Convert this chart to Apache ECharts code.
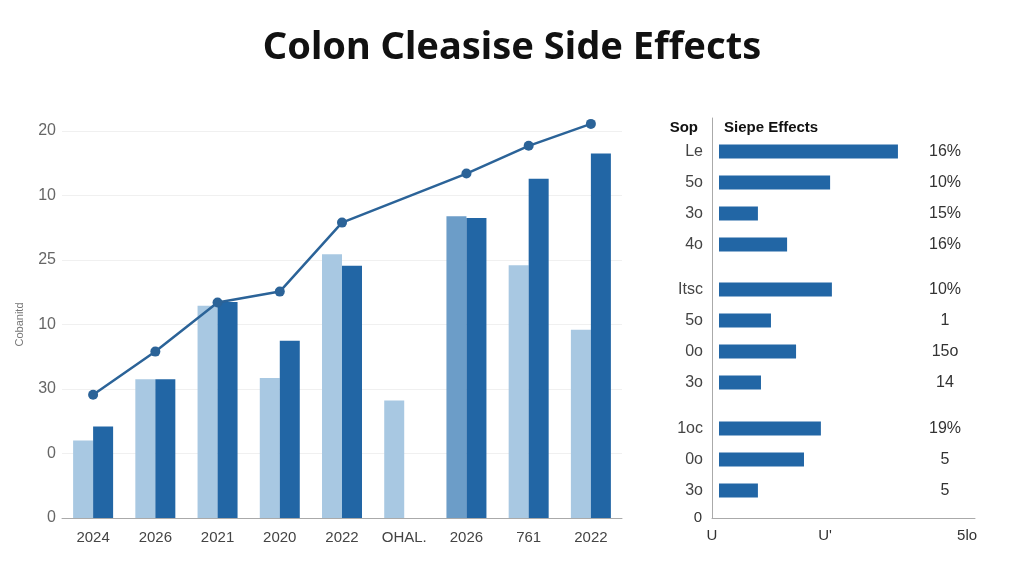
<!DOCTYPE html>
<html>
<head>
<meta charset="utf-8">
<script src="https://cdn.jsdelivr.net/npm/echarts@6/dist/echarts.min.js"></script>
<style>html,body{margin:0;padding:0;background:#fff}#c{width:1024px;height:585px}</style>
</head>
<body>
<div id="c"></div>
<script>
// ---- Left chart data ----
const categories = ['2024','2026','2021','2020','2022','OHAL.','2026','761','2022'];
const lightValues = [1.2, 2.15, 3.29, 2.17, 4.09, 1.82, 4.68, 3.92, 2.92];
const darkValues  = [1.42, 2.15, 3.35, 2.75, 3.91, null, 4.65, 5.26, 5.65];
const lineValues  = [1.91, 2.58, 3.34, 3.51, 4.58, null, 5.34, 5.77, 6.11];
const yTickLabels = ['0','0','30','10','25','10','20'];
const yAxisName = 'Cobanitd';

// ---- Right chart data ----
const groupA = ['Le','5o','3o','4o'];
const groupAValues = [69.9, 43.4, 15.2, 26.6];
const groupALabels = ['16%','10%','15%','16%'];
const groupB = ['Itsc','5o','0o','3o'];
const groupBValues = [44.1, 20.3, 30.1, 16.4];
const groupBLabels = ['10%','1','15o','14'];
const groupC = ['1oc','0o','3o'];
const groupCValues = [39.8, 33.2, 15.2];
const groupCLabels = ['19%','5','5'];
const rightTickValues = [0, 43, 97];
const rightTickLabels = ['U', "U'", '5lo'];

const chart = echarts.init(document.getElementById('c'), null, {renderer:'canvas'});
const FONT = 'Liberation Sans, Arial, sans-serif';
const LIGHT = '#a8c8e2', MID = '#6c9dc8', DARK = '#2266a5', LINE = '#2b6398';

function subGrid(idx){
  return {
    xAxis: {type:'value', gridIndex:idx, min:0, max:100, show:false},
    yLeft: {type:'category', gridIndex:idx, inverse:true, axisLine:{show:false}, axisTick:{show:false},
            axisLabel:{fontSize:16, color:'#444', fontFamily:FONT, margin:16}},
    yRight:{type:'category', gridIndex:idx, inverse:true, position:'right', axisLine:{show:false}, axisTick:{show:false},
            axisLabel:{inside:true, fontSize:16, color:'#333', fontFamily:FONT, margin:30, align:'center'}}
  };
}
const groups = [[groupA, groupAValues, groupALabels],[groupB, groupBValues, groupBLabels],[groupC, groupCValues, groupCLabels]];

const xAxes = [
  {type:'category', gridIndex:0, data:categories, axisLine:{lineStyle:{color:'#aaa'}}, axisTick:{show:false},
   axisLabel:{fontSize:15, color:'#444', fontFamily:FONT, margin:12, interval:0}},
  {type:'value', gridIndex:1, min:0, max:100, axisLine:{show:true, lineStyle:{color:'#aaa'}}, axisTick:{show:false},
   splitLine:{show:false},
   axisLabel:{customValues:rightTickValues, fontSize:15, color:'#333', fontFamily:FONT, margin:10,
     formatter:function(v){const i=rightTickValues.indexOf(v);return i>=0?rightTickLabels[i]:'';}}}
];
const yAxes = [
  {type:'value', gridIndex:0, min:0, max:6, interval:1, name:yAxisName, nameLocation:'middle', nameGap:37, nameRotate:90,
   nameTextStyle:{fontSize:11, color:'#777', fontFamily:FONT},
   axisLine:{show:false}, axisTick:{show:false}, splitLine:{lineStyle:{color:'#f0f0f0'}},
   axisLabel:{fontSize:16, color:'#666', fontFamily:FONT, margin:6, formatter:function(v){return yTickLabels[v] || '';}}},
  {type:'value', gridIndex:1, min:0, max:1, axisLine:{show:true, lineStyle:{color:'#aaa'}}, axisTick:{show:false},
   splitLine:{show:false},
   axisLabel:{customValues:[0], fontSize:15, color:'#333', fontFamily:FONT, margin:10, formatter:function(){return '0';}}}
];
const grids = [
  {left:62, right:402, top:131, bottom:67},
  {left:712, right:49, top:118, bottom:67},
  {left:719, right:49, top:136, height:124},
  {left:719, right:49, top:274, height:124},
  {left:719, right:49, top:413, height:93}
];
const series = [
  {type:'bar', xAxisIndex:0, yAxisIndex:0, barWidth:20, barGap:'0%',
   data: lightValues.map((v,i)=> i===6 ? {value:v, itemStyle:{color:MID}} : v), itemStyle:{color:LIGHT}},
  {type:'bar', xAxisIndex:0, yAxisIndex:0, barWidth:20, barGap:'0%', data:darkValues, itemStyle:{color:DARK}},
  {type:'line', xAxisIndex:0, yAxisIndex:0, data:lineValues, connectNulls:true, clip:false, symbol:'circle', symbolSize:10,
   lineStyle:{color:LINE, width:2.5}, itemStyle:{color:LINE}, z:5}
];
groups.forEach((g,k)=>{
  const gi = k+2;
  const s = subGrid(gi);
  xAxes.push(s.xAxis);
  s.yLeft.data = g[0];
  s.yRight.data = g[2];
  const li = yAxes.length;
  yAxes.push(s.yLeft);
  yAxes.push(s.yRight);
  series.push({type:'bar', xAxisIndex:xAxes.length-1, yAxisIndex:li, barWidth:14, data:g[1], itemStyle:{color:DARK}});
});

chart.setOption({
  animation:false,
  title:[
    {text:'Colon Cleasise Side Effects', left:'center', top:24,
     textStyle:{fontSize:38, fontWeight:'bold', color:'#111', fontFamily:'Noto Sans, sans-serif'}},
    {text:'Sop', right:321, top:115, textStyle:{fontSize:15, fontWeight:600, color:'#111', fontFamily:FONT}},
    {text:'Siepe Effects', left:719, top:115, textStyle:{fontSize:15, fontWeight:600, color:'#111', fontFamily:FONT}}
  ],
  grid:grids, xAxis:xAxes, yAxis:yAxes, series:series
});
</script>
</body>
</html>
